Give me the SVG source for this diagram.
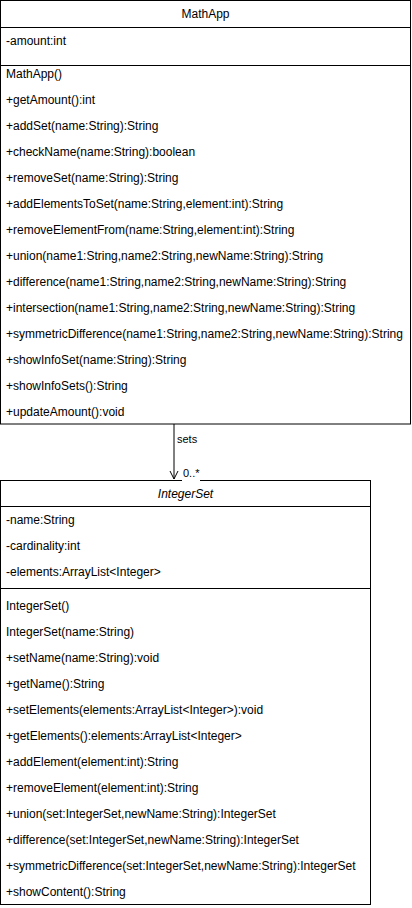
<svg xmlns="http://www.w3.org/2000/svg" width="412" height="908" viewBox="0 0 412 908">
<style>
.box{fill:#fff;stroke:#000;stroke-width:1}
.ln{stroke:#000;stroke-width:1;fill:none}
text{font-family:"Liberation Sans",Arial,Helvetica,sans-serif;font-size:12px;fill:#000}
.t{text-anchor:middle}
.i{font-style:italic}
</style>
<defs>
<marker id="open" viewBox="0 0 10 10" refX="9" refY="5" markerWidth="10" markerHeight="10" markerUnits="userSpaceOnUse" orient="auto">
<path d="M1,1 L9,5 L1,9" fill="none" stroke="#000" stroke-width="1"/>
</marker>
</defs>
<g id="MathApp">
<rect class="box" x="0.5" y="0.5" width="410" height="423.5"/>
<line class="ln" x1="0.5" y1="27.5" x2="410.5" y2="27.5"/>
<line class="ln" x1="0.5" y1="65.5" x2="410.5" y2="65.5"/>
<text class="t" x="205.5" y="18">MathApp</text>
<text x="6" y="45">-amount:int</text>
<text x="6" y="78">MathApp()</text>
<text x="6" y="104">+getAmount():int</text>
<text x="6" y="130">+addSet(name:String):String</text>
<text x="6" y="156">+checkName(name:String):boolean</text>
<text x="6" y="182">+removeSet(name:String):String</text>
<text x="6" y="208">+addElementsToSet(name:String,element:int):String</text>
<text x="6" y="234">+removeElementFrom(name:String,element:int):String</text>
<text x="6" y="260">+union(name1:String,name2:String,newName:String):String</text>
<text x="6" y="286">+difference(name1:String,name2:String,newName:String):String</text>
<text x="6" y="312">+intersection(name1:String,name2:String,newName:String):String</text>
<text x="6" y="338">+symmetricDifference(name1:String,name2:String,newName:String):String</text>
<text x="6" y="364">+showInfoSet(name:String):String</text>
<text x="6" y="390">+showInfoSets():String</text>
<text x="6" y="416">+updateAmount():void</text>
</g>
<g id="IntegerSet">
<rect class="box" x="0.5" y="480.5" width="370" height="424"/>
<line class="ln" x1="0.5" y1="506.5" x2="370.5" y2="506.5"/>
<line class="ln" x1="0.5" y1="588.5" x2="370.5" y2="588.5"/>
<text class="t i" x="185.5" y="498">IntegerSet</text>
<text x="6" y="524">-name:String</text>
<text x="6" y="550">-cardinality:int</text>
<text x="6" y="576">-elements:ArrayList&lt;Integer&gt;</text>
<text x="6" y="610">IntegerSet()</text>
<text x="6" y="636">IntegerSet(name:String)</text>
<text x="6" y="662">+setName(name:String):void</text>
<text x="6" y="688">+getName():String</text>
<text x="6" y="714">+setElements(elements:ArrayList&lt;Integer&gt;):void</text>
<text x="6" y="740">+getElements():elements:ArrayList&lt;Integer&gt;</text>
<text x="6" y="766">+addElement(element:int):String</text>
<text x="6" y="792">+removeElement(element:int):String</text>
<text x="6" y="818">+union(set:IntegerSet,newName:String):IntegerSet</text>
<text x="6" y="844">+difference(set:IntegerSet,newName:String):IntegerSet</text>
<text x="6" y="870">+symmetricDifference(set:IntegerSet,newName:String):IntegerSet</text>
<text x="6" y="896">+showContent():String</text>
</g>
<g id="connectors">
<line class="ln" x1="174" y1="424" x2="174" y2="479" marker-end="url(#open)"/>
<text x="177" y="443" style="font-size:11px">sets</text>
<rect x="182" y="467" width="18" height="14" fill="#fff"/>
<text x="183" y="477" style="font-size:11px">0..*</text>
</g>
</svg>
